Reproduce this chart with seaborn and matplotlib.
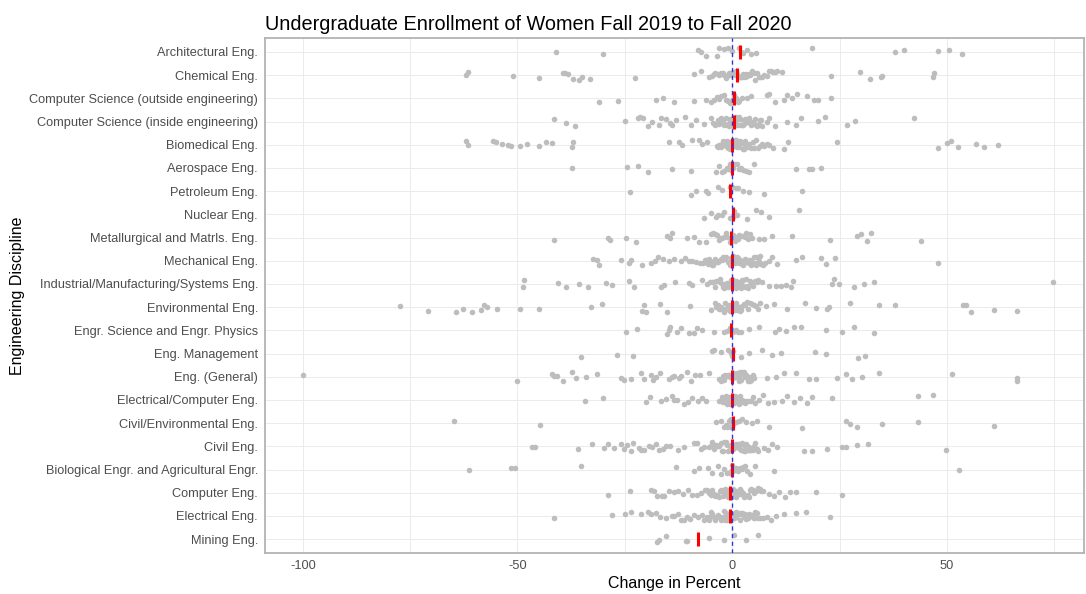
import numpy as np
import pandas as pd
import matplotlib
matplotlib.use("Agg")
import matplotlib.pyplot as plt
import seaborn as sns

# disciplines, top to bottom
disciplines = [
    "Architectural Eng.", "Chemical Eng.", "Computer Science (outside engineering)",
    "Computer Science (inside engineering)", "Biomedical Eng.", "Aerospace Eng.",
    "Petroleum Eng.", "Nuclear Eng.", "Metallurgical and Matrls. Eng.", "Mechanical Eng.",
    "Industrial/Manufacturing/Systems Eng.", "Environmental Eng.", "Engr. Science and Engr. Physics",
    "Eng. Management", "Eng. (General)", "Electrical/Computer Eng.", "Civil/Environmental Eng.",
    "Civil Eng.", "Biological Engr. and Agricultural Engr.", "Computer Eng.", "Electrical Eng.",
    "Mining Eng.",
]

# percent change per school
architectural = [-41, -30, -8, -7.2, -6, -3.5, -3, -2, -1, 0, 1.5, 2, 2.5, 3.5, 4.5, 5.6,
                 18.6, 38, 40, 48, 50.6, 53.5]
chemical = [-62, -61.6, -51, -45, -39.5, -39, -38.2, -37, -35.6, -35, -33, -22.6, -8.8, -7.2,
            -5.3, -4.8, -4.3, -3.9, -3.4, -3.0, -2.6, -2.2, -1.8, -1.4, -1.1, -0.8, -0.5, -0.2,
            0.1, 0.4, 0.6, 0.8, 1.0, 1.2, 1.5, 1.8, 2.0, 2.3, 2.6, 2.9, 3.2, 3.5, 3.9, 4.2, 4.6,
            5.0, 5.4, 5.8, 6.2, 6.6, 7.0, 7.5, 8.0, 8.5, 9.0, 9.4, 10.0, 10.5,
            11.6, 23, 29.8, 32, 34.6, 35, 46.7, 47]
cs_outside = [-31, -26.5, -17.7, -16, -13.5, -8.8, -6, -5, -4.2, -3.5, -3, -2.5, -2, -1.5, -1,
              -0.6, -0.2, 0.2, 0.5, 0.9, 1.3, 1.7, 2.2, 3.5, 4.5, 8, 8.6, 10, 12, 12.7, 14, 15,
              17.5, 19, 20, 23]
cs_inside = [-41.6, -38.8, -36.5, -25, -22, -21.5, -20.7, -19.5, -18.6, -17, -16.5, -15.3,
             -14.4, -14, -13, -11, -9.5, -8.4, -6.5, -5,
             -4.5, -4.1, -3.7, -3.3, -3.0, -2.7, -2.4, -2.1, -1.8, -1.5, -1.2, -1.0, -0.8, -0.6,
             -0.4, -0.2, 0, 0.2, 0.4, 0.6, 0.8, 1.0, 1.3, 1.6, 1.9, 2.2, 2.5, 2.8, 3.1, 3.4, 3.7,
             4.0, 4.3, 4.6, 5.0, 5.4, 5.8, 6.2, 6.6, 7.0, 3.0, 2.0, 1.5, 0.9, 5.2, 6.8,
             8, 8.6, 10, 12.8, 14.8, 16, 20, 21.7, 26.7, 28.7, 42.3]
biomedical = [-62, -61.5, -55.6, -55, -53.7, -52.3, -51.4, -49.5, -47.7, -45, -43.3, -42,
              -37.4, -37, -14.6, -12.3, -11.6, -9.3, -7.7, -7, -5.8,
              -3.6, -3.3, -3.0, -2.7, -2.4, -2.1, -1.9, -1.7, -1.5, -1.3, -1.1, -0.9, -0.7,
              -0.5, -0.4, -0.3, -0.1, 0, 0.2, 0.4, 0.6, 0.8, 1.0, 1.3, 1.6, 1.9, 2.2, 2.5, 2.8,
              3.1, 3.4, 3.7, 4.0, 4.4, 4.8, 5.2, 5.6, 6.0, 6.5, 7.0, 7.5, 8.0, 1.1, 2.9,
              8.5, 9.5, 12, 13, 24.4, 47.9, 50, 51, 52.6, 56.7, 58.6, 62]
aerospace = [-37.2, -24.4, -22, -19.7, -14, -9.5, -3.7, -3, -2.4, -1.8, -1.3, -0.9, -0.5, -0.2,
             0, 0.3, 0.7, 1.1, 1.5, 2, 2.6, 3.2, 4, 5, 14.8, 18, 18.5, 20.7]
petroleum = [-23.7, -9.5, -8.4, -6, -5.6, -3.3, -2.4, -0.5, -0.3, 0, 1, 1.4, 2.5, 4, 7.4, 16.3]
nuclear = [-6.5, -4.9, -3.7, -3.3, -2.4, -1.8, -0.4, 0.1, 0.5, 1.2, 3.5, 5.6, 6.8, 8.6, 15.6]
metallurgical = [-41.4, -29, -28.4, -24.7, -22.3, -15.1, -14.5, -13.9, -10.5, -8.9, -7.7, -6,
                 -4.9, -4.4, -3.9, -3.5, -3.1, -2.7, -2.3, -1.9, -1.5, -1.1, -0.6, -0.3, 0, 0.3,
                 0.6, 0.9, 1.3, 1.7, 2.1, 2.5, 2.9, 3.3, 3.7, 4.1,
                 4.6, 6.3, 7.4, 9.3, 14, 22.8, 29, 30, 31.4, 32.3, 44]
mechanical = [-32.3, -31.4, -31, -25.8, -24, -23.5, -21, -18.8, -18, -17.3, -16.1, -14.7, -13.5,
              -12, -11, -10, -9.3, -8.4, -7.6, -6.9,
              -6.3, -6.0, -5.7, -5.4, -5.1, -4.8, -4.5, -4.2, -3.9, -3.6, -3.3, -3.0, -2.7, -2.4,
              -2.1, -1.8, -1.4, -1.0, -0.6, -0.2, 0.1, 0.3, 0.5, 0.8, 1.1, 1.4, 1.7, 2.0, 2.3,
              2.6, 2.9, 3.2, 3.5, 3.8, 4.1, 4.4, 4.7, 5.0, 5.3, 5.6, 5.9, 6.2, 6.5, 6.8, 7.1,
              0.7, 1.9, 3.0, 4.0, 5.5,
              7.7, 8.6, 9.3, 10.5, 14.8, 16.2, 20.7, 21.8, 24, 48]
industrial = [-48.8, -48.4, -40.6, -38.6, -35.6, -33.5, -29.3, -27.9, -24, -22.8, -16.5, -15.8,
              -13.3, -10, -9.3, -7, -5.9,
              -5.2, -4.8, -4.4, -4.0, -3.7, -3.4, -3.1, -2.8, -2.5, -2.2, -1.9, -1.6, -1.3, -1.0,
              -0.8, -0.6, -0.4, -0.2, 0, 0.2, 0.5, 0.8, 1.1, 1.4, 1.7, 2.0, 2.3, 2.6, 2.9, 3.2,
              3.5, 3.8, 4.1, 4.5, 4.9, 5.3, 5.7, 6.1, 1.0, 2.4,
              7, 8.5, 10.2, 11.4, 12.5, 13.7, 14.2, 23.3, 23.8, 24.9, 28.4, 30.7, 33, 74.7]
environmental = [-77.4, -70.9, -64.2, -62.8, -60.7, -58.6, -57.7, -57, -54.7, -49.5, -45, -32.8,
                 -30.2, -20.9, -20.5, -20, -16.7, -15.1, -9.8, -4.9,
                 -4.0, -3.7, -3.4, -3.1, -2.8, -2.5, -2.2, -1.9, -1.6, -1.3, -1.1, -0.9, -0.7,
                 -0.5, -0.3, -0.1, 0.1, 0.3, 0.6, 0.9, 1.2, 1.5, 1.8, 2.1, 2.4, 2.7, 3.0, 3.4,
                 3.8, 4.2, 4.6, 5.0, 5.5, 6.0, 0.5, 1.6,
                 6.5, 7.8, 9.8, 12.8, 17, 19.5, 22, 22.5, 27.4, 34.2, 37.9, 53.7, 54.5, 55.6, 61,
                 66.3]
engr_science = [-24.7, -22.1, -15.1, -14.8, -14.5, -12.8, -11.8, -10, -8.8, -8.1, -7, -4.2, -2,
                -1.2, -0.6, -0.2, 0.3, 0.8, 1.4, 2, 4, 6.3, 10, 10.9, 12.5, 14.5, 16, 21.9, 25.6,
                28.4, 33]
eng_management = [-35.1, -26.8, -23, -4.6, -4.3, -2.6, -1, -0.3, -0.1, 0.2, 2.1, 4, 7, 9.3, 11.3,
                  19.3, 21.9, 29.2, 31]
eng_general = [-100, -50, -41.9, -41.4, -40.7, -39.3, -37.2, -36.3, -34, -31.4, -26, -25.1,
               -23.5, -21.2, -20.6, -18.8, -18.4, -17.7, -16.7, -14.7, -14, -13.5, -12.4, -11.8,
               -10.5, -9.5, -8.6, -7.4, -5.3,
               -3.0, -2.6, -2.2, -1.9, -1.6, -1.3, -1.0, -0.7, -0.4, -0.1, 0.1, 0.3, 0.5, 0.7,
               0.9, 1.1, 1.3, 1.5, 1.7, 1.9, 2.1, 2.3, 2.5, 2.7, 2.9, 3.1, 3.3, 3.6, 3.9, 4.2,
               4.5, 4.8, 5.1, 0.6, 1.6,
               8.2, 10.2, 12, 14.8, 18, 19.5, 24.4, 26.4, 28, 30.2, 34.2, 51.2, 66.3, 66.4]
elec_computer = [-34.2, -30, -20, -19.2, -16.5, -15.3, -14.1, -13.5, -12.8, -11.2, -10.4, -9.3,
                 -8, -7.1, -6.2,
                 -3.0, -2.7, -2.4, -2.1, -1.9, -1.7, -1.5, -1.3, -1.1, -0.9, -0.7, -0.5, -0.3,
                 -0.1, 0.1, 0.4, 0.7, 1.0, 1.3, 1.6, 1.9, 2.2, 2.5, 2.8, 3.1, 3.5, 3.9, 4.3, 4.8,
                 5.3,
                 6.3, 7.2, 8.4, 9.8, 11.6, 12.7, 14.5, 15.8, 17.4, 18.6, 23.3, 43.3, 46.7]
civil_env = [-64.7, -44.7, -3.7, -2.6, -2.0, -1.5, -1.1, -0.8, -0.6, -0.5, -0.3, -0.2, -0.1, 0,
             0.2, 0.9, 1.5, 2.2, 3.3, 4.6, 5.8, 8.6, 16.3, 26.5, 27.5, 29, 35, 43.3, 61]
civil = [-46.7, -46, -36, -32.6, -29.8, -29, -27.6, -26, -25.3, -24.4, -23.6, -23, -21.8, -21.3,
         -20.6, -19.4, -18.6, -17.8, -17, -16.2, -15.5, -14.4, -12.6, -11.2, -9, -8.2, -7.3,
         -6.5,
         -5.4, -5.0, -4.6, -4.2, -3.8, -3.4, -3.0, -2.7, -2.4, -2.1, -1.8, -1.5, -1.2, -0.9,
         -0.6, -0.4, -0.2, 0.1, 0.3, 0.5, 0.7, 0.9, 1.1, 1.3, 1.5, 1.7, 1.9, 2.1, 2.3, 2.5,
         2.7, 2.9, 3.1, 3.3, 3.5, 3.7, 3.9, 4.1, 4.3, 4.5, 4.8, 5.1, 5.4, 5.7, 6.0, 0.2, 1.0,
         2.0, 3.0, 4.0,
         7.5, 8.3, 9.2, 10.5, 16.7, 18.6, 22, 25.6, 26.5, 29, 31.6, 49.8]
bio_ag = [-61.4, -51.6, -50.5, -35.1, -13, -8.8, -7.7, -5.6, -4.6, -3.3, -2.6, -1.9, -1.2, -0.6,
          -0.3, 0, 0.3, 0.5, 0.8, 1.1, 1.4, 1.8, 2.2, 2.6, 3.0, 3.5, 4.2, 5.3, 9.8, 52.8]
computer = [-28.8, -23.7, -18.8, -18.3, -17.4, -16.4, -15.8, -14.7, -13.5, -12.6, -11.5, -10.4,
            -9.4, -8.1, -7.2, -6.4,
            -5.8, -5.4, -5.0, -4.6, -4.3, -4.0, -3.7, -3.4, -3.1, -2.8, -2.5, -2.2, -1.9, -1.7,
            -1.5, -1.3, -1.1, -0.9, -0.7, -0.3, -0.1, 0.1, 0.3, 0.6, 0.9, 1.2, 1.5, 1.8, 2.1,
            2.4, 2.7, 3.0, 3.3, 3.6, 3.9, 4.2, 4.5, 4.8, 5.2, 5.6, 6.0, 6.4, 6.8, 7.2, 1.0, 2.5,
            8.6, 9.8, 10.9, 12.2, 13.5, 14.9, 19.5, 25.6]
electrical = [-41.6, -28.1, -24.9, -23.5, -21.2, -19.6, -18.8, -17.7, -16.9, -15.3, -14, -13.5,
              -12.6, -12, -11.2, -10.5, -9.8, -8.8, -7.9, -7.1, -6.5,
              -5.8, -5.5, -5.2, -4.9, -4.6, -4.3, -4.0, -3.7, -3.4, -3.1, -2.8, -2.5, -2.2, -1.9,
              -1.7, -1.5, -1.3, -1.1, -0.8, -0.4, -0.2, 0, 0.2, 0.4, 0.6, 0.9, 1.2, 1.5, 1.8,
              2.1, 2.4, 2.7, 3.0, 3.3, 3.6, 3.9, 4.2, 4.5, 4.8, 5.1, 5.4, 5.7, 6.0, 0.5, 1.0,
              1.6, 2.3, 3.1, 4.0, 5.0,
              6.5, 7.2, 8.1, 9, 10.2, 12, 14.8, 17.2, 22.8]
mining = [-17.4, -17, -15.3, -10.7, -10.5, -5.3, -1.9, 0.4, 3.2, 6]

series = [architectural, chemical, cs_outside, cs_inside, biomedical, aerospace, petroleum,
          nuclear, metallurgical, mechanical, industrial, environmental, engr_science,
          eng_management, eng_general, elec_computer, civil_env, civil, bio_ag, computer,
          electrical, mining]

df = pd.DataFrame({
    "discipline": np.repeat(disciplines, [len(s) for s in series]),
    "change": np.concatenate(series),
})

sns.set_theme(style="whitegrid")
plt.rcParams["font.family"] = ["Liberation Sans", "DejaVu Sans"]
plt.rcParams["axes.unicode_minus"] = False

fig, ax = plt.subplots(figsize=(10.86, 5.94), dpi=100)
fig.subplots_adjust(left=0.244, right=0.998, top=0.936, bottom=0.069)

np.random.seed(3)
sns.stripplot(data=df, x="change", y="discipline", order=disciplines, color="#BDBDBD",
              jitter=0.2, size=4, linewidth=0, ax=ax, zorder=2)
# red tick = median of each discipline
sns.pointplot(data=df, x="change", y="discipline", order=disciplines, estimator="median",
              errorbar=None, linestyle="none", marker="|", markersize=10, markeredgewidth=2.2,
              color="red", ax=ax, zorder=3)
ax.axvline(0, color="#3333DD", linestyle=(0, (3, 2.5)), linewidth=1, zorder=4)

ax.set_xlim(-108.8, 81.9)
ax.set_ylim(len(disciplines) - 0.4, -0.6)
ax.set_xticks([-100, -50, 0, 50])
ax.set_xticks([-75, -25, 25, 75], minor=True)
ax.grid(True, which="both", axis="x", color="#EBEBEB", linewidth=0.7)
ax.grid(True, which="major", axis="y", color="#EBEBEB", linewidth=0.7)
ax.set_axisbelow(True)
for sp in ax.spines.values():
    sp.set_color("#B3B3B3")
    sp.set_linewidth(1.3)
ax.tick_params(axis="both", which="major", length=3, width=0.6, color="#B3B3B3",
               labelsize=9.2, labelcolor="#4D4D4D", pad=2)
ax.tick_params(axis="x", which="minor", length=0)

ax.set_xlabel("Change in Percent", fontsize=11.5, color="black", labelpad=3)
ax.set_ylabel("Engineering Discipline", fontsize=11.5, color="black", labelpad=3)
ax.set_title("Undergraduate Enrollment of Women Fall 2019 to Fall 2020", loc="left",
             fontsize=14.3, color="black", pad=6)

fig.savefig("out.png", dpi=100)
